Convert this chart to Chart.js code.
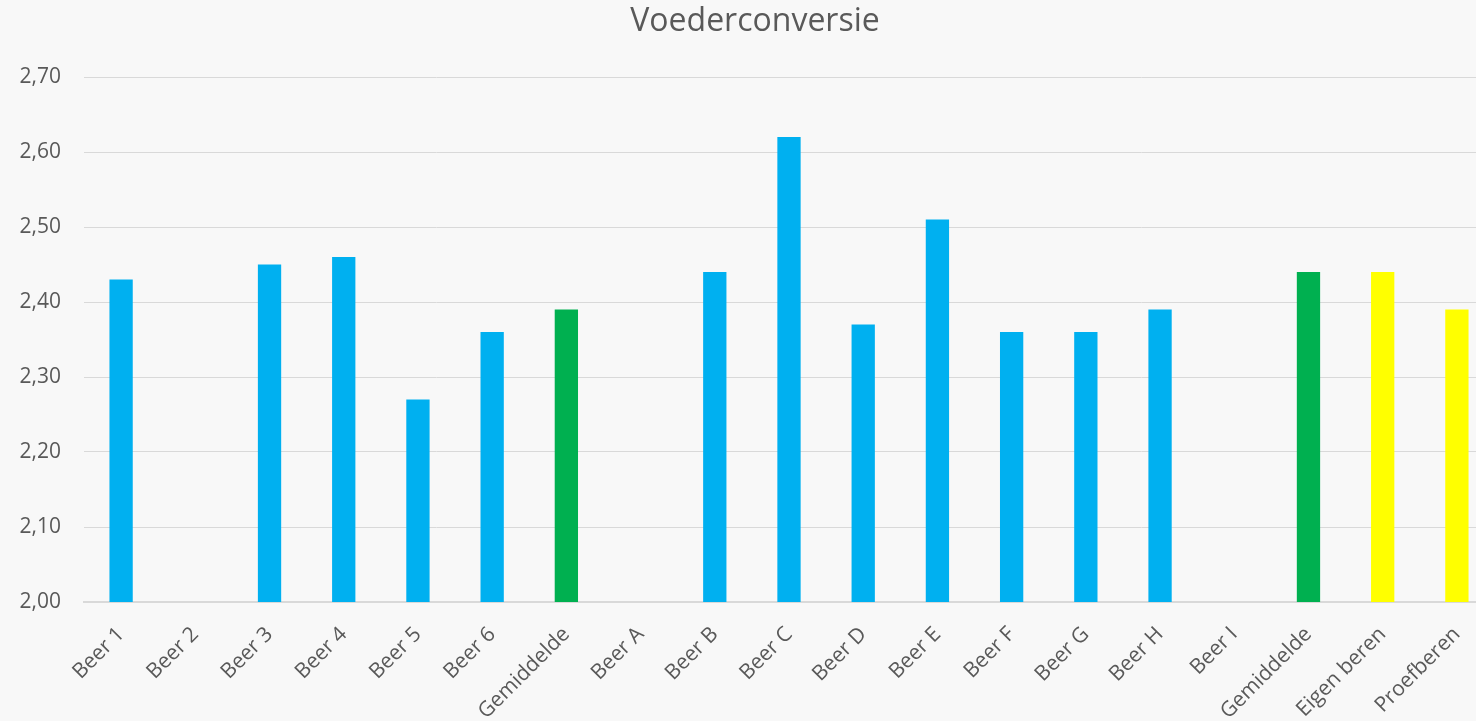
<!DOCTYPE html>
<html>
<head>
<meta charset="utf-8">
<script src="https://cdn.jsdelivr.net/npm/chart.js@4"></script>
<style>
    html, body { margin: 0; padding: 0; background: #F8F8F8; overflow: hidden; }
    #chart { display: block; }
</style>
</head>
<body>
<canvas id="chart" width="1524" height="721" style="width:1524px;height:721px"></canvas>
<script>
const labels = ['Beer 1', 'Beer 2', 'Beer 3', 'Beer 4', 'Beer 5', 'Beer 6', 'Gemiddelde',
    'Beer A', 'Beer B', 'Beer C', 'Beer D', 'Beer E', 'Beer F', 'Beer G', 'Beer H', 'Beer I',
    'Gemiddelde', 'Eigen beren', 'Proefberen'];
const values = [2.43, null, 2.45, 2.46, 2.27, 2.36, 2.39,
    null, 2.44, 2.62, 2.37, 2.51, 2.36, 2.36, 2.39, null,
    2.44, 2.44, 2.39];
const yTicks = [2.00, 2.10, 2.20, 2.30, 2.40, 2.50, 2.60, 2.70];

const barColors = labels.map(l => {
    if (l === 'Gemiddelde') return '#00B050';
    if (l === 'Eigen beren' || l === 'Proefberen') return '#FFFF00';
    return '#00B0F0';
});

const font = "'Open Sans', 'Noto Sans', sans-serif";

new Chart(document.getElementById('chart'), {
    type: 'bar',
    data: {
        labels: labels,
        datasets: [{
            label: 'Voederconversie',
            data: values,
            backgroundColor: barColors,
            borderWidth: 0,
            categoryPercentage: 1,
            barPercentage: 0.314
        }]
    },
    options: {
        responsive: false,
        devicePixelRatio: 1,
        animation: false,
        layout: { padding: { left: 16, right: 30, top: 0, bottom: 0 } },
        plugins: {
            legend: { display: false },
            tooltip: { enabled: false },
            title: {
                display: true,
                text: 'Voederconversie',
                color: '#595959',
                font: { family: font, size: 32, weight: 'normal', lineHeight: 1.2 },
                padding: { top: 3, bottom: 35.6 }
            }
        },
        scales: {
            x: {
                grid: { display: false, drawTicks: false },
                border: { color: '#D9D9D9', width: 2 },
                ticks: {
                    color: '#595959',
                    font: { family: font, size: 21 },
                    minRotation: 45,
                    maxRotation: 45,
                    padding: 20,
                    autoSkip: false
                },
                afterFit: s => { s.height = 119; }
            },
            y: {
                min: 2.0,
                max: 2.7,
                afterBuildTicks: s => { s.ticks = yTicks.map(v => ({ value: v })); },
                grid: { color: '#D9D9D9', lineWidth: 1, drawTicks: false },
                border: { display: false },
                ticks: {
                    color: '#595959',
                    font: { family: font, size: 21 },
                    padding: 23,
                    callback: v => v.toFixed(2).replace('.', ',')
                },
                afterFit: s => { s.width = 68; }
            }
        }
    }
});
</script>
</body>
</html>
